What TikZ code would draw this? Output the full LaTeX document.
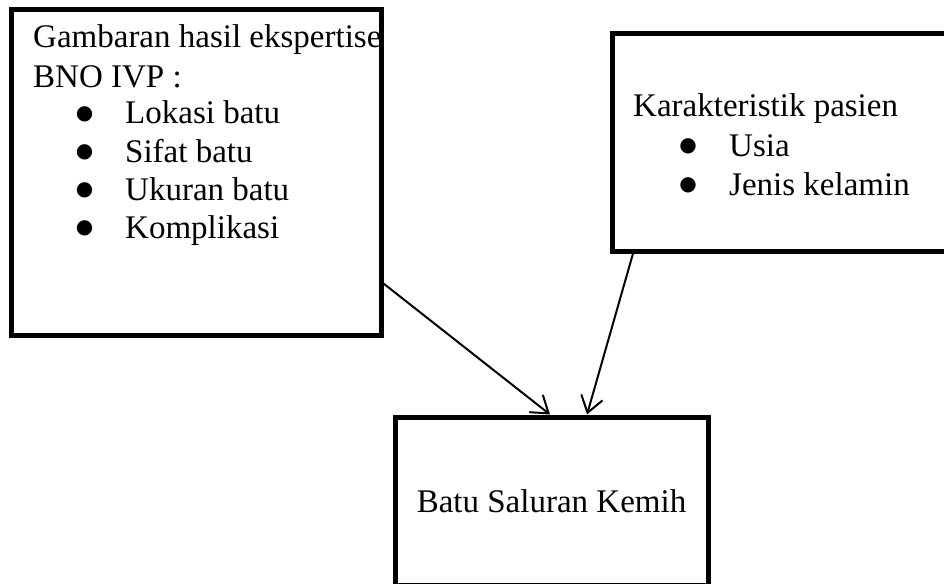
\documentclass[tikz,border=0pt]{standalone}
\usepackage{fontspec}
\setmainfont{Liberation Serif}
\newfontfamily\dotfont{DejaVu Sans}
\usetikzlibrary{arrows.meta}
\tikzset{
    block/.style={
        draw, line width = 5pt,
        inner sep = 0pt,
        anchor = north west,
        font = \fontsize{33}{40}\selectfont
    },
    txt/.style = {inner sep = 0pt, anchor = base west,
        font = \fontsize{33}{40}\selectfont},
    bullet/.style = {inner sep = 0pt, anchor = center,
        font = \dotfont\fontsize{20}{22}\selectfont},
    line/.style = {line width = 2pt, -{Straight Barb[length=16pt, width=22pt]}}
}

\begin{document}
\begin{tikzpicture}[x = 1pt, y = -1pt]

    \clip (0,0) rectangle (944,583);

    \node[block, minimum width = 370pt, minimum height = 325pt] (expertise) at (8.5,7.5) {};
    \node[block, minimum width = 345pt, minimum height = 217pt] (patient) at (609.5,31.5) {};
    \node[block, minimum width = 313pt, minimum height = 168pt] (stone) at (392.5,414.5) {Batu Saluran Kemih};

    \node[txt] (exphead) at (33,48) {Gambaran hasil ekspertise};
    \node[txt] (expsub) at (33,88) {BNO IVP :};
    \node[bullet] (dot1) at (84.5,114) {●};
    \node[txt] (location) at (125,124) {Lokasi batu};
    \node[bullet] (dot2) at (84.5,152) {●};
    \node[txt] (nature) at (125,162) {Sifat batu};
    \node[bullet] (dot3) at (84.5,190) {●};
    \node[txt] (size) at (125,200) {Ukuran batu};
    \node[bullet] (dot4) at (84.5,228) {●};
    \node[txt] (complication) at (125,238) {Komplikasi};

    \node[txt] (pathead) at (633,117) {Karakteristik pasien};
    \node[bullet] (dot5) at (688,146) {●};
    \node[txt] (age) at (729,156) {Usia};
    \node[bullet] (dot6) at (688,185) {●};
    \node[txt] (sex) at (729,195) {Jenis kelamin};

    % connectors into the result box
    \draw[line] ([yshift=54pt]expertise.south east) -- ([xshift=-1.5pt]stone.north);
    \draw[line] ([xshift=23.5pt]patient.south west) -- ([xshift=35.5pt]stone.north);

\end{tikzpicture}
\end{document}
